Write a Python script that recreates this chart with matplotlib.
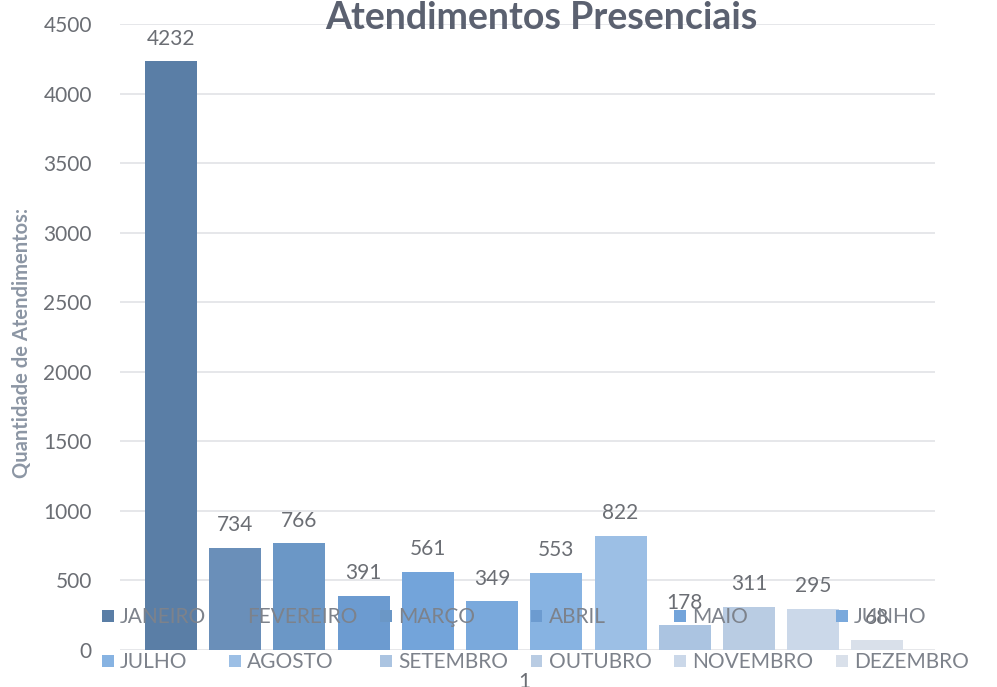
import matplotlib.pyplot as plt
import numpy as np

plt.rcParams['font.family'] = ['Lato', 'DejaVu Sans']

meses = ['JANEIRO', 'FEVEREIRO', 'MARÇO', 'ABRIL', 'MAIO', 'JUNHO',
         'JULHO', 'AGOSTO', 'SETEMBRO', 'OUTUBRO', 'NOVEMBRO', 'DEZEMBRO']
valores = [4232, 734, 766, 391, 561, 349, 553, 822, 178, 311, 295, 68]
cores = ['#5a7ea6', '#6a8fb9', '#6b97c6', '#6c9bd0', '#73a4da', '#7aa9dc',
         '#87b3e2', '#9cbfe5', '#abc4e1', '#b9cce3', '#cbd8e9', '#d9e0ea']

fig = plt.figure(figsize=(9.97, 6.87), dpi=100)
ax = fig.add_axes([0.120, 0.054, 0.818, 0.911])

x = np.arange(len(valores))
barras = []
for i in range(len(valores)):
    b = ax.bar(x[i], valores[i], width=0.81, color=cores[i], label=meses[i], zorder=2)
    barras.append(b)
    ax.text(x[i], valores[i] + 90, str(valores[i]), ha='center', va='bottom',
            fontsize=15, color='#6b6e74', zorder=3)

ax.set_ylim(0, 4500)
ax.set_xlim(-0.8, 11.9)
ax.set_yticks(np.arange(0, 4501, 500))
ax.yaxis.grid(True, color='#e2e3e6', lw=1.2)
ax.set_axisbelow(True)
ax.set_xticks([5.5])
ax.set_xticklabels(['1'])
ax.tick_params(length=0, labelsize=15, labelcolor='#6b6e74')
ax.tick_params(axis='y', pad=20)
ax.tick_params(axis='x', pad=16)
for s in ax.spines.values():
    s.set_visible(False)

ax.set_ylabel('Quantidade de Atendimentos:', fontsize=14.5, fontweight='bold',
              color='#8c96a4')
ax.yaxis.set_label_coords(-0.108, 0.49)

fig.text(0.543, 0.958, 'Atendimentos Presenciais', ha='center', va='baseline',
         fontsize=27, fontweight='bold', color='#5b6170')

# legenda: linha 1 Jan-Jun, linha 2 Jul-Dez
ordem = [0, 6, 1, 7, 2, 8, 3, 9, 4, 10, 5, 11]
leg = ax.legend([barras[i] for i in ordem], [meses[i] for i in ordem], ncol=6,
                loc='center', bbox_to_anchor=(0.51, 0.016), frameon=False,
                fontsize=15, labelcolor='#7d828b', handlelength=0.55,
                handleheight=0.55, handletextpad=0.3, columnspacing=1.1,
                labelspacing=1.2)
leg.set_zorder(4)

fig.savefig('out.png', dpi=100, facecolor='white')
